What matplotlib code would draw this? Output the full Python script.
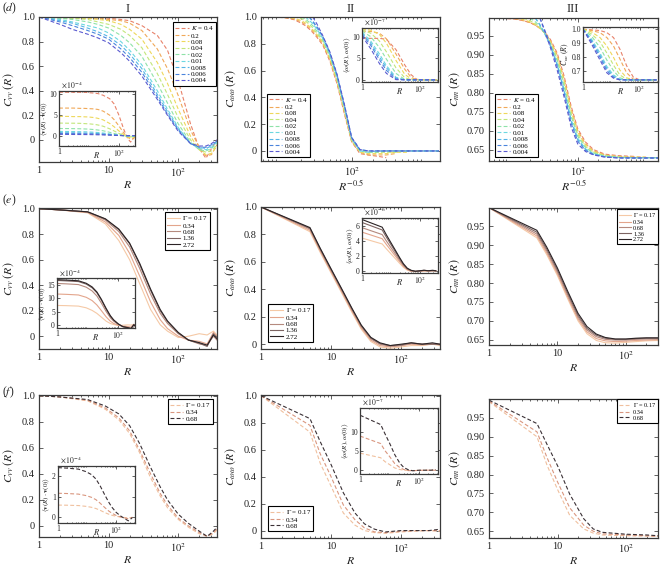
import numpy as np
import matplotlib
matplotlib.use('Agg')
import matplotlib.pyplot as plt
from matplotlib.ticker import LogLocator, NullFormatter

plt.rcParams['font.family'] = ['Liberation Serif', 'DejaVu Serif']
plt.rcParams['mathtext.fontset'] = 'stix'

N = np.nan

# ---- labels / colours ----
K_labels = ['0.4', '0.2', '0.08', '0.04', '0.02', '0.01', '0.008', '0.006', '0.004']
K_colors = ['#e8826a', '#f0a858', '#eed85a', '#c2e67a', '#8ee2a8',
            '#6cd8e0', '#56b4e6', '#4a84dc', '#5a5ad0']
G_labels = ['0.17', '0.34', '0.68', '1.36', '2.72']
G_colors = ['#f5c9a6', '#e3a58c', '#b58a7e', '#7d6462', '#2b2325']
F_colors = ['#f0c09e', '#d9967f', '#3a3035']

# ---- row (d) ----
d1_R = [1, 2, 3, 5, 7, 10, 15, 20, 30, 50, 70, 100, 150, 200, 250, 300, 360]
d1_C = [
    [1.00, 1.00, 1.00, 1.00, 1.00, 0.99, 0.98, 0.97, 0.93, 0.85, 0.73, 0.48, 0.13, -0.07, -0.15, -0.07, 0.00],
    [1.00, 1.00, 1.00, 0.99, 0.99, 0.98, 0.97, 0.95, 0.89, 0.74, 0.58, 0.36, 0.08, -0.06, -0.13, -0.12, -0.04],
    [1.00, 1.00, 0.99, 0.99, 0.98, 0.97, 0.94, 0.90, 0.82, 0.63, 0.46, 0.25, 0.03, -0.08, -0.12, -0.11, -0.05],
    [1.00, 0.99, 0.99, 0.98, 0.96, 0.94, 0.90, 0.85, 0.75, 0.54, 0.37, 0.18, 0.00, -0.08, -0.10, -0.09, -0.04],
    [1.00, 0.99, 0.98, 0.96, 0.94, 0.91, 0.85, 0.79, 0.68, 0.46, 0.30, 0.13, -0.02, -0.08, -0.09, -0.07, -0.03],
    [1.00, 0.98, 0.96, 0.93, 0.91, 0.87, 0.80, 0.73, 0.61, 0.40, 0.25, 0.10, -0.03, -0.07, -0.08, -0.06, -0.02],
    [1.00, 0.97, 0.95, 0.91, 0.88, 0.84, 0.77, 0.70, 0.58, 0.37, 0.23, 0.09, -0.03, -0.06, -0.07, -0.05, -0.01],
    [1.00, 0.96, 0.93, 0.89, 0.86, 0.82, 0.74, 0.67, 0.55, 0.35, 0.21, 0.08, -0.03, -0.06, -0.06, -0.04, -0.01],
    [1.00, 0.94, 0.90, 0.86, 0.83, 0.79, 0.71, 0.64, 0.52, 0.33, 0.20, 0.07, -0.03, -0.05, -0.05, -0.03, 0.00],
]
d1_amp = [10.4, 6.6, 4.6, 3.0, 1.7, 1.0, 0.7, 0.5, 0.3]  # x 1e-4

d2_x = [5.5, 8, 12, 16, 20, 23, 26, 29, 33, 40, 50, 63, 80, 100, 130, 170, 230, 300, 400, 600, 1000, 1600]
d2_C = [
    [1.00, 1.00, 0.995, 0.98, 0.955, 0.935, 0.91, 0.885, 0.85, 0.79, 0.67, 0.50, 0.27, 0.07, -0.02, -0.03, -0.04, -0.05, N, N, N, N],
    [N, 1.00, 0.995, 0.985, 0.965, 0.945, 0.92, 0.895, 0.86, 0.80, 0.68, 0.51, 0.28, 0.07, -0.01, -0.03, -0.03, -0.03, -0.02, N, N, N],
    [N, N, 1.00, 0.99, 0.975, 0.955, 0.93, 0.905, 0.87, 0.81, 0.69, 0.52, 0.29, 0.08, -0.01, -0.02, -0.02, -0.02, -0.01, -0.01, N, N],
    [N, N, N, 1.00, 0.99, 0.97, 0.945, 0.92, 0.88, 0.82, 0.70, 0.53, 0.30, 0.08, 0.00, -0.01, -0.01, -0.01, -0.01, 0.00, 0.00, N],
    [N, N, N, N, 1.00, 0.985, 0.96, 0.935, 0.895, 0.83, 0.71, 0.54, 0.31, 0.09, 0.00, -0.01, -0.01, 0.00, 0.00, 0.00, 0.00, 0.00],
    [N, N, N, N, N, 1.00, 0.975, 0.95, 0.91, 0.84, 0.72, 0.55, 0.32, 0.09, 0.00, -0.01, 0.00, 0.00, 0.00, 0.00, 0.00, 0.00],
    [N, N, N, N, N, N, 1.00, 0.965, 0.92, 0.85, 0.73, 0.56, 0.33, 0.10, 0.01, 0.00, 0.00, 0.00, 0.00, 0.00, 0.00, 0.00],
    [N, N, N, N, N, N, 1.00, 0.97, 0.93, 0.855, 0.735, 0.565, 0.335, 0.10, 0.01, 0.00, 0.00, 0.00, 0.00, 0.00, 0.00, 0.00],
    [N, N, N, N, N, N, N, 1.00, 0.95, 0.86, 0.74, 0.57, 0.34, 0.10, 0.01, 0.00, 0.00, 0.00, 0.00, 0.00, 0.00, 0.00],
]
d2in_R = [1, 2, 4, 7, 15, 30, 50, 80, 150, 400]
d2in_W = [  # x 1e-7
    [9.6, 9.6, 9.6, 9.4, 7.0, 3.5, 1.2, 0.1, 0.0, 0.0],
    [11.3, 11.2, 10.8, 9.5, 6.0, 2.5, 0.6, 0.0, 0.0, 0.0],
    [11.8, 11.5, 10.5, 8.5, 4.5, 1.3, 0.2, 0.0, 0.0, 0.0],
    [11.6, 10.8, 9.0, 6.5, 2.8, 0.5, 0.05, 0.0, 0.0, 0.0],
    [11.3, 10.0, 7.5, 4.8, 1.5, 0.1, 0.0, 0.0, 0.0, 0.0],
    [11.0, 9.0, 6.0, 3.3, 0.6, 0.0, 0.0, 0.0, 0.0, 0.0],
    [10.8, 8.5, 5.3, 2.8, 0.4, 0.0, 0.0, 0.0, 0.0, 0.0],
    [10.5, 8.0, 4.7, 2.2, 0.2, 0.0, 0.0, 0.0, 0.0, 0.0],
    [10.2, 7.2, 3.8, 1.5, 0.05, 0.0, 0.0, 0.0, 0.0, 0.0],
]

d3_x = [5, 8, 12, 16, 20, 24, 28, 33, 40, 50, 63, 80, 100, 130, 170, 250, 400, 700, 1000, 1490]
d3_C = [
    [0.997, 0.996, 0.994, 0.99, 0.985, 0.978, 0.97, 0.96, 0.94, 0.905, 0.845, 0.765, 0.705, 0.67, 0.65, 0.638, 0.634, 0.632, N, N],
    [N, 0.997, 0.995, 0.99, 0.985, 0.978, 0.97, 0.958, 0.937, 0.90, 0.838, 0.758, 0.70, 0.665, 0.647, 0.636, 0.632, 0.631, 0.63, N],
    [N, N, 0.997, 0.993, 0.987, 0.98, 0.97, 0.957, 0.934, 0.895, 0.832, 0.752, 0.695, 0.662, 0.645, 0.635, 0.631, 0.63, 0.63, N],
    [N, N, N, 0.997, 0.99, 0.982, 0.972, 0.957, 0.931, 0.89, 0.825, 0.745, 0.69, 0.658, 0.643, 0.634, 0.63, 0.629, 0.629, 0.629],
    [N, N, N, N, 0.997, 0.987, 0.975, 0.957, 0.928, 0.885, 0.818, 0.738, 0.685, 0.655, 0.641, 0.633, 0.63, 0.629, 0.629, 0.629],
    [N, N, N, N, N, 0.997, 0.98, 0.958, 0.925, 0.878, 0.81, 0.73, 0.68, 0.652, 0.639, 0.632, 0.629, 0.628, 0.628, 0.628],
    [N, N, N, N, N, 0.997, 0.978, 0.955, 0.922, 0.873, 0.805, 0.725, 0.676, 0.65, 0.638, 0.631, 0.629, 0.628, 0.628, 0.628],
    [N, N, N, N, N, N, 0.997, 0.965, 0.925, 0.87, 0.80, 0.72, 0.672, 0.648, 0.637, 0.631, 0.628, 0.628, 0.628, 0.628],
    [N, N, N, N, N, N, 0.997, 0.962, 0.918, 0.86, 0.79, 0.71, 0.665, 0.645, 0.636, 0.63, 0.628, 0.628, 0.628, 0.628],
]
d3in_R = [1, 2, 4, 7, 12, 20, 35, 60, 100, 400]
d3in_C = [
    [1.0, 0.995, 0.99, 0.975, 0.94, 0.86, 0.74, 0.66, 0.64, 0.64],
    [1.0, 0.99, 0.975, 0.94, 0.88, 0.79, 0.69, 0.645, 0.64, 0.64],
    [1.0, 0.98, 0.94, 0.88, 0.80, 0.71, 0.655, 0.64, 0.64, 0.64],
    [1.0, 0.965, 0.91, 0.83, 0.745, 0.675, 0.645, 0.64, 0.64, 0.64],
    [1.0, 0.95, 0.87, 0.78, 0.705, 0.655, 0.64, 0.64, 0.64, 0.64],
    [1.0, 0.93, 0.83, 0.735, 0.675, 0.645, 0.64, 0.64, 0.64, 0.64],
    [1.0, 0.92, 0.815, 0.72, 0.665, 0.643, 0.64, 0.64, 0.64, 0.64],
    [1.0, 0.91, 0.80, 0.705, 0.658, 0.641, 0.64, 0.64, 0.64, 0.64],
    [1.0, 0.895, 0.78, 0.69, 0.652, 0.64, 0.64, 0.64, 0.64, 0.64],
]

# ---- row (e) ----
e1_R = [1, 2, 5, 9, 14, 20, 28, 40, 55, 70, 100, 140, 200, 260, 320, 360]
e1_C = [
    [1.0, 0.99, 0.967, 0.88, 0.75, 0.60, 0.41, 0.21, 0.09, 0.04, -0.01, 0.00, 0.02, 0.01, 0.04, 0.01],
    [1.0, 0.99, 0.97, 0.895, 0.79, 0.65, 0.47, 0.27, 0.13, 0.06, 0.00, -0.03, -0.04, -0.06, 0.03, 0.00],
    [1.0, 0.99, 0.973, 0.91, 0.82, 0.70, 0.53, 0.33, 0.18, 0.10, 0.02, -0.03, -0.06, -0.07, 0.00, -0.03],
    [1.0, 0.99, 0.975, 0.918, 0.835, 0.725, 0.56, 0.36, 0.20, 0.115, 0.025, -0.03, -0.055, -0.08, 0.02, -0.01],
    [1.0, 0.99, 0.975, 0.92, 0.84, 0.73, 0.57, 0.37, 0.21, 0.12, 0.03, -0.03, -0.05, -0.07, 0.01, -0.02],
]
e1_amp = [7.3, 11.5, 15.4, 16.5, 16.8]  # x 1e-4

e2_R = [1, 5, 7, 10, 14, 20, 27, 37, 50, 70, 100, 140, 200, 280, 360]
e2_C = [
    [1.0, 0.82, 0.67, 0.52, 0.38, 0.23, 0.11, 0.02, -0.02, -0.03, -0.02, -0.01, -0.01, 0.00, -0.01],
    [1.0, 0.83, 0.68, 0.53, 0.39, 0.24, 0.12, 0.03, -0.01, -0.02, -0.01, 0.00, -0.005, 0.00, 0.00],
    [1.0, 0.84, 0.69, 0.54, 0.40, 0.25, 0.13, 0.04, 0.00, -0.015, -0.01, 0.005, 0.00, 0.005, -0.005],
    [1.0, 0.845, 0.695, 0.545, 0.405, 0.255, 0.135, 0.045, 0.005, -0.01, -0.005, 0.01, 0.00, 0.00, 0.00],
    [1.0, 0.85, 0.70, 0.55, 0.41, 0.26, 0.14, 0.05, 0.01, -0.01, 0.00, 0.01, 0.00, 0.01, 0.00],
]
e2_amp = [4.4, 5.2, 5.8, 6.5, 6.9]  # x 1e-6

e3_R = [1, 5, 7, 10, 14, 20, 27, 37, 50, 70, 100, 140, 200, 295]
e3_C = [
    [1.0, 0.92, 0.875, 0.82, 0.76, 0.70, 0.666, 0.648, 0.642, 0.641, 0.643, 0.645, 0.647, 0.648],
    [1.0, 0.925, 0.88, 0.825, 0.765, 0.705, 0.671, 0.653, 0.647, 0.645, 0.646, 0.648, 0.649, 0.65],
    [1.0, 0.93, 0.885, 0.83, 0.77, 0.71, 0.676, 0.658, 0.651, 0.649, 0.649, 0.651, 0.652, 0.652],
    [1.0, 0.935, 0.89, 0.835, 0.775, 0.715, 0.68, 0.662, 0.654, 0.651, 0.651, 0.653, 0.654, 0.654],
    [1.0, 0.94, 0.895, 0.84, 0.78, 0.72, 0.685, 0.665, 0.656, 0.652, 0.652, 0.654, 0.655, 0.655],
]

# ---- row (f) ----
f1_R = [1, 2, 5, 9, 14, 20, 28, 40, 55, 70, 100, 140, 200, 260, 320, 360]
f1_C = [
    [1.0, 0.99, 0.96, 0.895, 0.815, 0.71, 0.56, 0.37, 0.23, 0.14, 0.05, -0.01, -0.06, -0.08, -0.06, -0.03],
    [1.0, 0.99, 0.965, 0.905, 0.83, 0.73, 0.58, 0.40, 0.25, 0.16, 0.06, 0.00, -0.05, -0.08, -0.05, -0.02],
    [1.0, 0.99, 0.97, 0.92, 0.86, 0.77, 0.63, 0.45, 0.30, 0.20, 0.09, 0.02, -0.04, -0.08, -0.04, -0.01],
]
f1_amp = [0.58, 1.16, 2.42]  # x 1e-4

f2_R = [1, 5, 7, 10, 15, 22, 30, 42, 60, 100, 150, 250, 360]
f2_C = [
    [1.0, 0.73, 0.50, 0.33, 0.13, 0.04, 0.00, -0.015, -0.02, -0.01, -0.005, 0.00, -0.005],
    [1.0, 0.78, 0.57, 0.40, 0.19, 0.08, 0.02, -0.01, -0.015, -0.005, 0.00, 0.00, 0.00],
    [1.0, 0.83, 0.66, 0.49, 0.28, 0.13, 0.05, 0.01, -0.01, 0.00, 0.00, 0.00, 0.01],
]
f2_amp = [4.5, 9.0, 14.5]  # x 1e-7

f3_R = [1, 5, 7, 10, 15, 24, 33, 45, 100, 200, 290]
f3_C = [
    [0.993, 0.90, 0.825, 0.76, 0.692, 0.656, 0.645, 0.64, 0.638, 0.637, 0.636],
    [0.995, 0.913, 0.845, 0.78, 0.712, 0.666, 0.65, 0.643, 0.64, 0.638, 0.637],
    [0.997, 0.935, 0.88, 0.823, 0.748, 0.683, 0.656, 0.647, 0.642, 0.64, 0.638],
]

W, H = 660, 566
fig = plt.figure(figsize=(W / 100, H / 100), dpi=100)
TXT = '#222222'


def box(x0, y0, x1, y1):
    ax = fig.add_axes([x0 / W, 1 - y1 / H, (x1 - x0) / W, (y1 - y0) / H])
    ax.set_xscale('log')
    ax.tick_params(which='both', direction='in', top=True, right=True,
                   width=0.5, colors=TXT, labelsize=7.5, pad=3)
    ax.tick_params(which='major', length=3)
    ax.tick_params(which='minor', length=1.5)
    ax.xaxis.set_minor_locator(LogLocator(subs=range(2, 10)))
    ax.xaxis.set_minor_formatter(NullFormatter())
    for s in ax.spines.values():
        s.set_linewidth(0.9)
        s.set_color('#3a3a3a')
    return ax


def inset(x0, y0, x1, y1, xmax, ylim, yticks, ylabels, ylabel, scale=None):
    ax = box(x0, y0, x1, y1)
    ax.set_zorder(5)
    ax.set_facecolor('white')
    ax.tick_params(which='both', labelsize=5.5, pad=1.5)
    ax.tick_params(which='major', length=2)
    ax.tick_params(which='minor', length=1)
    ax.set_xlim(1, xmax)
    ax.set_ylim(*ylim)
    ax.set_xticks([1, 100], ['1', '$10^2$'])
    ax.set_yticks(yticks, ylabels)
    ax.set_xlabel('$R$', fontsize=6, labelpad=-7, color=TXT)
    ax.set_ylabel(ylabel, fontsize=5, labelpad=0.5, color=TXT)
    if scale:
        ax.text(0.02, 1.01, scale, transform=ax.transAxes, fontsize=5.5,
                color=TXT, va='bottom', ha='left')
    return ax


def legend(ax, handles, labels, loc, px, py, fs=5):
    leg = ax.legend(handles, labels, loc=loc, bbox_to_anchor=(px / W, 1 - py / H),
                    bbox_transform=fig.transFigure, fontsize=fs, frameon=True,
                    fancybox=False, edgecolor='black', framealpha=1,
                    handlelength=1.9, handletextpad=0.35, labelspacing=0.08,
                    borderpad=0.3, borderaxespad=0)
    leg.get_frame().set_linewidth(0.8)
    leg.set_zorder(6)
    return leg


def labels(ax, xl, yl, ylim, yticks, yticklabels, ypad=4):
    ax.set_ylim(*ylim)
    ax.set_yticks(yticks, yticklabels)
    ax.set_xlabel(xl, fontsize=8.5, labelpad=0, color=TXT)
    ax.set_ylabel(yl, fontsize=8.5, labelpad=ypad, color=TXT)


lw = 0.8
dash = (0, (3.5, 2))
v_ticks = [0, 0.2, 0.4, 0.6, 0.8, 1.0]
v_labels = ['0', '0.2', '0.4', '0.6', '0.8', '1.0']
n_ticks = [0.65, 0.70, 0.75, 0.80, 0.85, 0.90, 0.95]
n_labels = ['0.65', '0.70', '0.75', '0.80', '0.85', '0.90', '0.95']
K_leg = ['$K$ = 0.4'] + K_labels[1:]
G_leg = [r'$\mathit{\Gamma}$ = 0.17'] + G_labels[1:]
Cvv = r'$C_{vv}\;(R)$'
Cww = r'$C_{\omega\omega}\;(R)$'
Cnn = r'$C_{nn}\;(R)$'
vlab = r'$\langle\mathbf{v}(R)\cdot\mathbf{v}(0)\rangle$'
wlab = r'$\langle\omega(R),\omega(0)\rangle$'

# ================= row d =================
ax = box(39, 17, 217, 162)
hs = [ax.plot(d1_R, c, color=col, lw=lw, ls=dash)[0] for c, col in zip(d1_C, K_colors)]
ax.set_xlim(1, 360)
ax.set_xticks([1, 10, 100], ['1', '10', '$10^2$'])
labels(ax, '$R$', Cvv, (-0.18, 1.0), v_ticks, v_labels)
legend(ax, hs, K_leg, 'upper right', 216, 22)
ia = inset(59, 91, 135, 146, 350, (-2.5, 10.7), [0, 5, 10], ['0', '5', '10'],
           vlab, r'$\times\,10^{-4}$')
for c, a, col in zip(d1_C, d1_amp, K_colors):
    ia.plot(d1_R, np.array(c) * a, color=col, lw=lw, ls=dash)

ax = box(261, 17, 440, 161)
hs = [ax.plot(d2_x, c, color=col, lw=lw, ls=dash)[0] for c, col in zip(d2_C, K_colors)]
ax.set_xlim(5.6, 1660)
ax.set_xticks([100], ['$10^2$'])
labels(ax, '$R^{-0.5}$', Cww, (-0.075, 1.0), v_ticks, v_labels)
legend(ax, hs, K_leg, 'lower left', 267, 157)
ia = inset(362, 28, 438, 82, 430, (-0.5, 12), [0, 5, 10], ['0', '5', '10'],
           wlab, r'$\times\,10^{-7}$')
for c, col in zip(d2in_W, K_colors):
    ia.plot(d2in_R, c, color=col, lw=lw, ls=dash)

ax = box(489, 18, 658, 161)
hs = [ax.plot(d3_x, c, color=col, lw=lw, ls=dash)[0] for c, col in zip(d3_C, K_colors)]
ax.set_xlim(5.05, 1490)
ax.set_xticks([100], ['$10^2$'])
labels(ax, '$R^{-0.5}$', Cnn, (0.62, 0.997), n_ticks, n_labels, ypad=3)
legend(ax, hs, K_leg, 'lower left', 495, 157)
ia = inset(583, 27, 658, 82, 450, (0.625, 1.015), [0.7, 0.8, 0.9, 1.0],
           ['0.7', '0.8', '0.9', '1.0'], Cnn)
ia.yaxis.label.set_fontsize(5.5)
for c, col in zip(d3in_C, K_colors):
    ia.plot(d3in_R, c, color=col, lw=lw, ls=dash)

# ================= row e =================
ax = box(39, 208, 217, 349)
hs = [ax.plot(e1_R, c, color=col, lw=lw)[0] for c, col in zip(e1_C, G_colors)]
ax.set_xlim(1, 360)
ax.set_xticks([1, 10, 100], ['1', '10', '$10^2$'])
labels(ax, '$R$', Cvv, (-0.1, 1.005), v_ticks, v_labels)
legend(ax, hs, G_leg, 'upper right', 210, 212)
ia = inset(57, 278, 135, 328, 350, (-1, 17.4), [0, 5, 10, 15], ['0', '5', '10', '15'],
           vlab, r'$\times\,10^{-4}$')
for c, a, col in zip(e1_C, e1_amp, G_colors):
    ia.plot(e1_R, np.array(c) * a, color=col, lw=lw)

ax = box(261, 207, 440, 349)
hs = [ax.plot(e2_R, c, color=col, lw=lw)[0] for c, col in zip(e2_C, G_colors)]
ax.set_xlim(1, 360)
ax.set_xticks([1, 10, 100], ['1', '10', '$10^2$'])
labels(ax, '$R$', Cww, (-0.035, 1.0), v_ticks, v_labels)
legend(ax, hs, G_leg, 'lower left', 268, 342)
ia = inset(362, 218, 438, 273, 430, (-0.3, 7.1), [0, 2, 4, 6], ['0', '2', '4', '6'],
           wlab, r'$\times\,10^{-6}$')
for c, a, col in zip(e2_C, e2_amp, G_colors):
    ia.plot(e2_R, np.array(c) * a, color=col, lw=lw)

ax = box(489, 208, 658, 345)
hs = [ax.plot(e3_R, c, color=col, lw=lw)[0] for c, col in zip(e3_C, G_colors)]
ax.set_xlim(1, 295)
ax.set_xticks([1, 10, 100], ['1', '10', '$10^2$'])
labels(ax, '$R$', Cnn, (0.636, 0.999), n_ticks, n_labels, ypad=3)
legend(ax, hs, G_leg, 'upper right', 658, 209, fs=4.5)

# ================= row f =================
ax = box(39, 395, 217, 537)
hs = [ax.plot(f1_R, c, color=col, lw=lw, ls=dash)[0] for c, col in zip(f1_C, F_colors)]
ax.set_xlim(1, 360)
ax.set_xticks([1, 10, 100], ['1', '10', '$10^2$'])
labels(ax, '$R$', Cvv, (-0.085, 1.005), v_ticks, v_labels)
legend(ax, hs, G_leg[:3], 'upper right', 213, 399)
ia = inset(58, 466, 135, 523, 440, (-0.3, 2.5), [0, 1, 2], ['0', '1', '2'],
           vlab, r'$\times\,10^{-4}$')
for c, a, col in zip(f1_C, f1_amp, F_colors):
    ia.plot(f1_R, np.array(c) * a, color=col, lw=lw, ls=dash)

ax = box(261, 395, 440, 538)
hs = [ax.plot(f2_R, c, color=col, lw=lw, ls=dash)[0] for c, col in zip(f2_C, F_colors)]
ax.set_xlim(1, 360)
ax.set_xticks([1, 10, 100], ['1', '10', '$10^2$'])
labels(ax, '$R$', Cww, (-0.055, 1.005), v_ticks, v_labels)
legend(ax, hs, G_leg[:3], 'lower left', 268, 531)
ia = inset(360, 408, 438, 474, 430, (-1, 16.4), [0, 5, 10], ['0', '5', '10'],
           wlab, r'$\times\,10^{-7}$')
for c, a, col in zip(f2_C, f2_amp, F_colors):
    ia.plot(f2_R, np.array(c) * a, color=col, lw=lw, ls=dash)

ax = box(489, 399, 658, 538)
hs = [ax.plot(f3_R, c, color=col, lw=lw, ls=dash)[0] for c, col in zip(f3_C, F_colors)]
ax.set_xlim(1, 290)
ax.set_xticks([1, 10, 100], ['1', '10', '$10^2$'])
labels(ax, '$R$', Cnn, (0.632, 1.0), n_ticks, n_labels, ypad=3)
legend(ax, hs, G_leg[:3], 'upper right', 658, 399, fs=4.5)

# ---- headers ----
for x, s in [(128, 'I'), (351, 'II'), (573, 'III')]:
    fig.text(x / W, 1 - 9 / H, s, ha='center', va='center', fontsize=9, color=TXT)
for y, s in [(8, 'd'), (200, 'e'), (392, 'f')]:
    fig.text(2 / W, 1 - y / H, '($\\mathit{%s}$)' % s, ha='left', va='center',
             fontsize=8.5, color=TXT)

fig.savefig('out.png', dpi=100)
